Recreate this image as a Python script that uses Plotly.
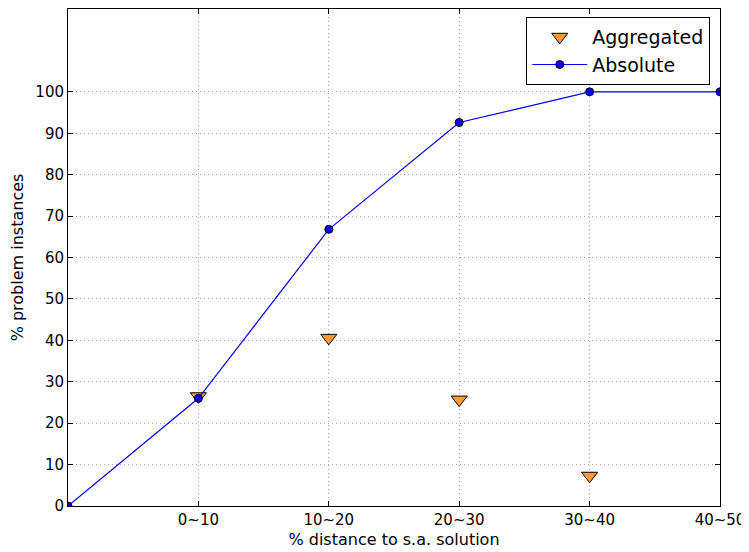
import plotly.graph_objects as go

x_pos = [0, 1, 2, 3, 4, 5]
x_labels = ["0~10", "10~20", "20~30", "30~40", "40~50"]
absolute = [0, 26, 66.8, 92.6, 100, 100]
agg_x = [1, 2, 3, 4]
aggregated = [26.5, 40.6, 25.7, 7.3]

fig = go.Figure()
fig.add_trace(go.Scatter(
    x=agg_x, y=aggregated, mode="markers", name="Aggregated",
    marker=dict(symbol="triangle-down", size=14, color="#ff9933",
                line=dict(color="black", width=1)),
))
fig.add_trace(go.Scatter(
    x=x_pos, y=absolute, mode="lines+markers", name="Absolute",
    line=dict(color="blue", width=1.2),
    marker=dict(symbol="circle", size=8, color="blue",
                line=dict(color="black", width=1)),
))

axis_common = dict(
    showline=True, linecolor="black", linewidth=1, mirror="ticks",
    ticks="inside", ticklen=5, tickcolor="black",
    showgrid=True, gridcolor="#a8a8a8", griddash="1px,3px", gridwidth=1,
    zeroline=False, automargin=False,
    tickfont=dict(family="DejaVu Sans", size=15, color="black"),
)
fig.update_xaxes(
    range=[0, 5], tickvals=x_pos[1:], ticktext=x_labels,
    title=dict(text="% distance to s.a. solution",
               font=dict(family="DejaVu Sans", size=16, color="black"), standoff=5),
    **axis_common,
)
fig.update_yaxes(
    range=[0, 120], tickvals=list(range(0, 101, 10)),
    title=dict(text="% problem instances",
               font=dict(family="DejaVu Sans", size=16, color="black"), standoff=8),
    **axis_common,
)
# page body has an 8px default margin, so the figure is offset by 8px
fig.update_layout(
    width=741, height=544,
    margin=dict(l=60, r=29, t=1, b=46),
    plot_bgcolor="white", paper_bgcolor="white",
    font=dict(family="DejaVu Sans", color="black"),
    legend=dict(x=0.985, y=0.984, xanchor="right", yanchor="top",
                bordercolor="black", borderwidth=1, bgcolor="white",
                font=dict(family="DejaVu Sans", size=19, color="black"),
                itemwidth=55, tracegroupgap=0),
    showlegend=True,
)
fig.write_html("out.html")
